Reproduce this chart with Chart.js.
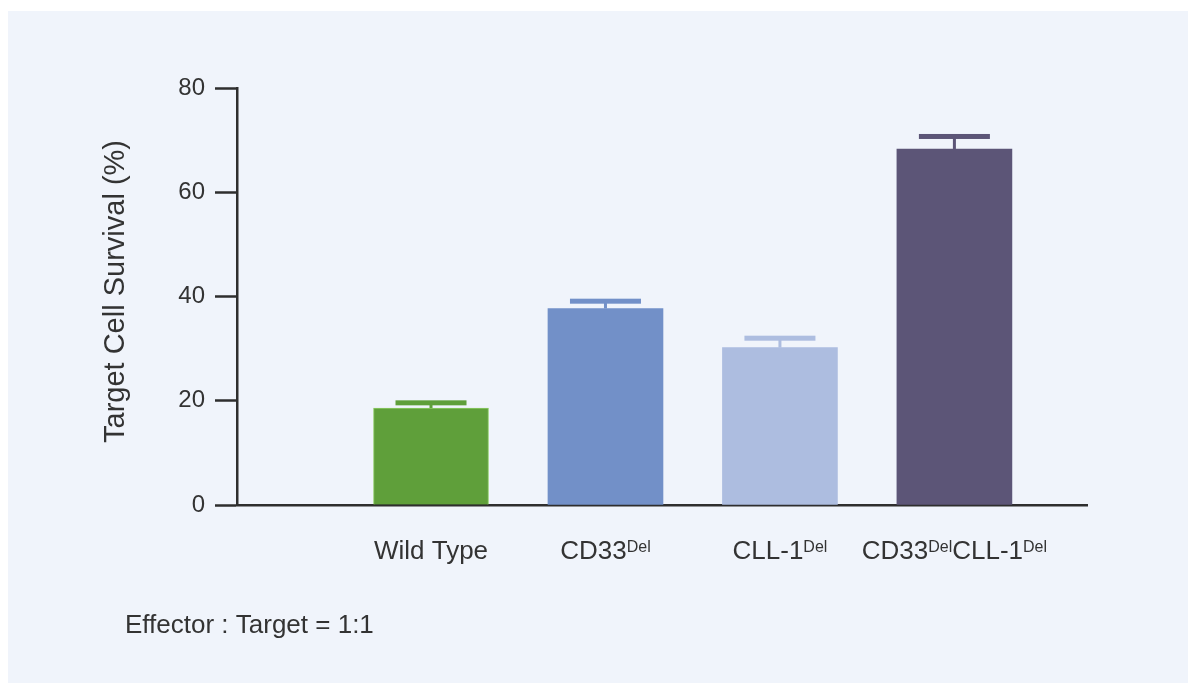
<!DOCTYPE html>
<html>
<head>
<meta charset="utf-8">
<title>Target Cell Survival</title>
<script src="https://cdn.jsdelivr.net/npm/chart.js@4/dist/chart.umd.min.js"></script>
<style>
  html, body { margin: 0; padding: 0; background: #ffffff; overflow: hidden; }
  canvas { display: block; }
</style>
</head>
<body>
<canvas id="c" width="1188" height="683"></canvas>
<script>
// Groups: main label text and its superscript parts
const categories = [
  [['Wild Type', false]],
  [['CD33', false], ['Del', true]],
  [['CLL-1', false], ['Del', true]],
  [['CD33', false], ['Del', true], ['CLL-1', false], ['Del', true]]
];
// Mean target cell survival (%) and the top of each error bar
const survival = [18.6, 37.7, 30.2, 68.3];
const errorTop = [19.6, 39.1, 32.0, 70.7];
const barColors = ['#5f9f3a', '#7290c8', '#adbde0', '#5c5577'];
const yTicks = [0, 20, 40, 60, 80];
const yTitle = 'Target Cell Survival (%)';
const footnote = 'Effector : Target = 1:1';

const FONT = '"Liberation Sans", Arial, Helvetica, sans-serif';
const TEXT = '#333333';
const AXIS = '#2e2e2e';

const panelBackground = {
  id: 'panelBackground',
  beforeDraw(chart) {
    const ctx = chart.ctx;
    ctx.save();
    ctx.fillStyle = '#ffffff';
    ctx.fillRect(0, 0, chart.width, chart.height);
    ctx.fillStyle = '#f0f4fb';
    ctx.fillRect(8, 11, chart.width - 8, chart.height - 11);
    ctx.restore();
  }
};

const errorBars = {
  id: 'errorBars',
  afterDatasetsDraw(chart) {
    const ctx = chart.ctx;
    const y = chart.scales.y;
    const meta = chart.getDatasetMeta(0);
    ctx.save();
    meta.data.forEach((bar, i) => {
      const top = y.getPixelForValue(errorTop[i]);
      const x = bar.x;
      ctx.fillStyle = barColors[i];
      // stem
      ctx.fillRect(x - 1.5, top, 3, bar.y - top);
      // cap
      ctx.fillRect(x - 35.5, top - 2.5, 71, 5);
    });
    ctx.restore();
  }
};

const annotations = {
  id: 'annotations',
  afterDraw(chart) {
    const ctx = chart.ctx;
    const xs = chart.scales.x;
    ctx.save();
    ctx.fillStyle = TEXT;
    ctx.textBaseline = 'alphabetic';
    const mainFont = '26px ' + FONT;
    const supFont = '16px ' + FONT;
    const baseY = 559;
    categories.forEach((parts, i) => {
      let total = 0;
      const widths = parts.map(([t, sup]) => {
        ctx.font = sup ? supFont : mainFont;
        const w = ctx.measureText(t).width;
        total += w;
        return w;
      });
      let x = xs.getPixelForValue(i + 1) - total / 2;
      ctx.textAlign = 'left';
      parts.forEach(([t, sup], k) => {
        ctx.font = sup ? supFont : mainFont;
        ctx.fillText(t, x, sup ? baseY - 7 : baseY);
        x += widths[k];
      });
    });

    // y-axis title
    ctx.save();
    ctx.translate(124, 291.5);
    ctx.rotate(-Math.PI / 2);
    ctx.font = '29px ' + FONT;
    ctx.textAlign = 'center';
    ctx.fillText(yTitle, 0, 0);
    ctx.restore();

    // footnote
    ctx.font = '26px ' + FONT;
    ctx.textAlign = 'left';
    ctx.fillText(footnote, 125, 633);
    ctx.restore();
  }
};

const points = survival.map((v, i) => ({ x: i + 1, y: v }));

new Chart(document.getElementById('c'), {
  type: 'bar',
  data: {
    datasets: [{
      data: points,
      backgroundColor: barColors,
      borderColor: ['#8ccc64', 'rgba(0,0,0,0)', 'rgba(0,0,0,0)', 'rgba(0,0,0,0)'],
      borderWidth: [1, 0, 0, 0],
      borderSkipped: 'bottom',
      barThickness: 115
    }]
  },
  options: {
    responsive: false,
    devicePixelRatio: 1,
    animation: false,
    layout: { padding: { left: 0, top: 88, right: 101, bottom: 0 } },
    plugins: { legend: { display: false }, tooltip: { enabled: false }, title: { display: false } },
    scales: {
      x: {
        type: 'linear',
        offset: false,
        min: -0.112,
        max: 4.76,
        grid: { display: false },
        border: { display: true, color: AXIS, width: 2.5 },
        ticks: { display: false },
        afterFit(scale) { scale.height = 178; }
      },
      y: {
        min: 0,
        max: 80,
        afterBuildTicks(scale) { scale.ticks = yTicks.map(v => ({ value: v })); },
        grid: {
          drawOnChartArea: false,
          drawTicks: true,
          tickLength: 22,
          tickColor: AXIS,
          tickWidth: 2.5,
          color: AXIS
        },
        border: { display: true, color: AXIS, width: 2.5 },
        ticks: {
          padding: 10,
          color: TEXT,
          font: { family: FONT, size: 24 }
        },
        afterFit(scale) { scale.width = 237; }
      }
    }
  },
  plugins: [panelBackground, errorBars, annotations]
});
</script>
</body>
</html>
